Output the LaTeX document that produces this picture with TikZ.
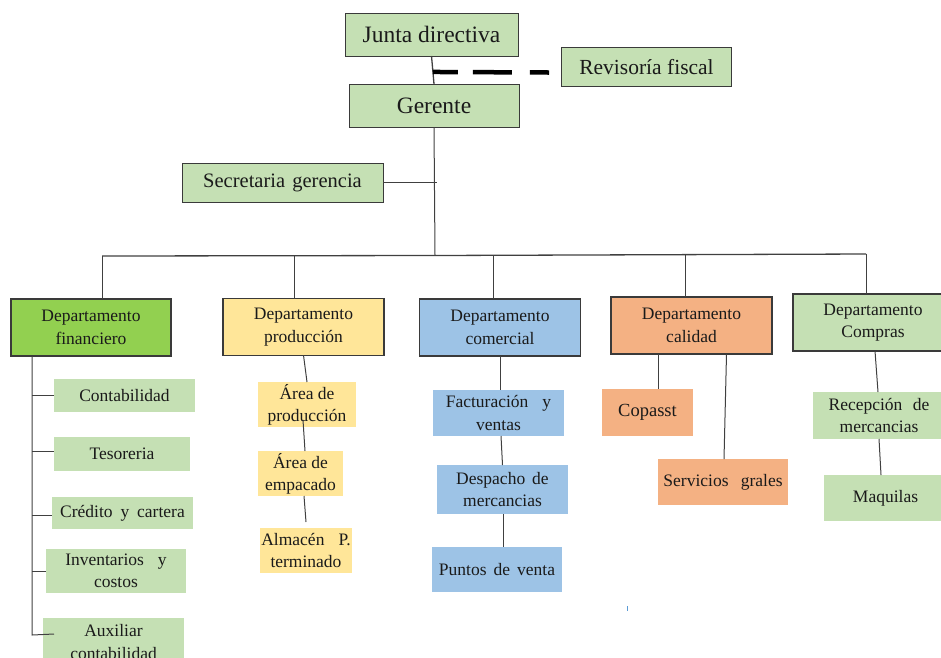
\documentclass[tikz,border=0pt]{standalone}
\usepackage{fontspec}
\setmainfont{Liberation Serif}
\usetikzlibrary{calc}
\definecolor{cgreen}{HTML}{C5E0B4}
\definecolor{cfin}{HTML}{92D050}
\definecolor{cyel}{HTML}{FFE699}
\definecolor{cblue}{HTML}{9DC3E6}
\definecolor{corange}{HTML}{F4B183}
\definecolor{bordc}{HTML}{3A3A3A}
\definecolor{linec}{HTML}{404040}
\definecolor{textc}{HTML}{1A1A1A}
\definecolor{strayc}{HTML}{5B9BD5}
\begin{document}
\begin{tikzpicture}[x=1pt,y=-1pt,
  every node/.style={inner sep=0pt, outer sep=0pt, text=textc, align=center},
  sz/.style 2 args={minimum width=#1pt, minimum height=#2pt},
  topbox/.style={draw=bordc, line width=1pt, fill=cgreen},
  deptbox/.style={draw=bordc, line width=1.3pt, font=\fontsize{17.5}{22.7}\selectfont},
  subbox/.style={draw=none, font=\fontsize{17.5}{22.3}\selectfont},
  bigfont/.style={font=\fontsize{23.5}{27}\selectfont},
  midfont/.style={font=\fontsize{21.5}{25}\selectfont},
  conn/.style={draw=linec, line width=1pt},
  busline/.style={draw=linec, line width=1.3pt},
  dashline/.style={draw=black, line width=4.5pt, dash pattern=on 25pt off 15pt on 39pt off 18pt on 40pt}
]
\useasboundingbox (0,0) rectangle (941,657);
\clip (0,0) rectangle (941,657);

% top level
\node[topbox, bigfont, sz={173}{43}] (junta) at (431.5,34.5) {Junta directiva};
\node[topbox, midfont, sz={170}{39}] (revisoria) at (646.5,67) {Revisoría fiscal};
\node[topbox, bigfont, sz={170}{43}] (gerente) at (434,105.5) {Gerente};
\node[topbox, font=\fontsize{20.5}{24}\selectfont, sz={201}{39}] (secretaria) at (282.5,182.5) {Secretaria\hspace{0.35em}gerencia};

% departments
\node[deptbox, fill=cfin, sz={160}{57}] (fin) at (91,327.5) {Departamento\\financiero};
\node[deptbox, fill=cyel, sz={161}{56.5}] (prod) at (303.5,327) {Departamento\\producción};
\node[deptbox, fill=cblue, sz={161}{57}] (com) at (500,327.5) {Departamento\\comercial};
\node[deptbox, fill=corange, sz={161}{57}] (cal) at (691.5,325.5) {Departamento\\calidad};
\node[deptbox, fill=cgreen, sz={160}{57}] (comp) at (873,322.5) {Departamento\\Compras};

% financiero children
\node[subbox, fill=cgreen, sz={141}{33}] (conta) at (124.5,395.5) {Contabilidad};
\node[subbox, fill=cgreen, sz={136}{34}] (teso) at (122,454) {Tesoreria};
\node[subbox, fill=cgreen, sz={141}{32}] (cred) at (122.5,513) {Crédito\hspace{0.45em}y\hspace{0.45em}cartera};
\node[subbox, fill=cgreen, sz={140}{44}] (inv) at (116,571) {Inventarios\hspace{0.8em}y\\costos};
\node[subbox, fill=cgreen, sz={141}{48}] (aux) at (113.5,642) {Auxiliar\\contabilidad};

% produccion children
\node[subbox, fill=cyel, sz={98}{45}] (ap) at (307,404.5) {Área de\\producción};
\node[subbox, fill=cyel, sz={85}{45}] (ae) at (300.5,473.5) {Área de\\empacado};
\node[subbox, fill=cyel, sz={92}{45}] (alm) at (306,550.5) {Almacén\hspace{0.8em}P.\\terminado};

% comercial children
\node[subbox, fill=cblue, sz={131}{46}] (fac) at (498.5,413) {Facturación\hspace{0.8em}y\\ventas};
\node[subbox, fill=cblue, sz={131}{49}] (des) at (502.5,489.5) {Despacho\hspace{0.4em}de\\mercancias};
\node[subbox, fill=cblue, sz={130}{45}] (pun) at (497,569.5) {Puntos\hspace{0.4em}de\hspace{0.4em}venta};

% calidad children
\node[subbox, fill=corange, sz={91}{47}, font=\fontsize{18.5}{22}\selectfont] (cop) at (647.5,412.5) {Copasst};
\node[subbox, fill=corange, sz={130}{46}] (serv) at (723,482) {Servicios\hspace{0.7em}grales};

% compras children
\node[subbox, fill=cgreen, sz={132}{47}] (rec) at (879,415.5) {Recepción\hspace{0.6em}de\\mercancias};
\node[subbox, fill=cgreen, sz={123}{46}] (maq) at (885.5,498) {Maquilas};

% coordinates
\coordinate (jg) at ($(junta.south)!0.57!(gerente.north)$);
\coordinate (dashend) at (549,72.5);
\coordinate (hub) at (435,255.5);
\coordinate (sectick) at (437,182.5);
\coordinate (busL) at (102,256);
\coordinate (busR) at (866,254);
\coordinate (dprod) at (294,256);
\coordinate (dcom) at (493,255);
\coordinate (dcal) at (685,254.5);
\coordinate (fintop) at (32,356);
\coordinate (finbot) at (32,635);
\coordinate (auxt) at (54,634);
\coordinate (straytop) at (627,606);
\coordinate (straybot) at (627,611);

% connectors top
\draw[conn, line width=1.3pt] (junta.south) -- (gerente.north);
\draw[dashline] (jg) -- (dashend);
\draw[conn] (gerente.south) -- (hub);
\draw[conn] (secretaria.east) -- (sectick);
\draw[busline] (busL) -- (hub) -- (busR);

% drops
\draw[conn] (busL) -- (busL |- fin.north);
\draw[conn] (dprod) -- (dprod |- prod.north);
\draw[conn] (dcom) -- (dcom |- com.north);
\draw[conn] (dcal) -- (dcal |- cal.north);
\draw[conn] (busR) -- (busR |- comp.north);

% financiero
\draw[conn] (fintop) -- (finbot) -- (auxt);
\draw[conn] (fintop |- conta.west) -- (conta.west);
\draw[conn] ([yshift=3pt]fintop |- teso.west) -- ([yshift=3pt]teso.west);
\draw[conn] ([yshift=-2pt]fintop |- cred.west) -- ([yshift=-2pt]cred.west);
\draw[conn] (fintop |- inv.west) -- (inv.west);

% produccion
\draw[conn] (prod.south) -- (ap.north);
\draw[conn] ([xshift=-4pt,yshift=-15.5pt]ap.center) -- ([xshift=4.5pt]ae.north);
\draw[conn] ([xshift=3.5pt]ae.south) -- ([yshift=6pt]alm.north);

% comercial
\draw[conn] (com.south) -- (com.south |- fac.north);
\draw[conn] ([xshift=2.5pt]fac.south) -- (des.north);
\draw[conn] ([xshift=0.5pt]des.south) -- ([xshift=6pt]pun.north);

% calidad
\draw[conn] ([xshift=-33.5pt]cal.south) -- ([xshift=10.5pt]cop.north);
\draw[conn] ([xshift=35pt]cal.south) -- ([xshift=1pt]serv.north);

% compras
\draw[conn] ([xshift=2pt]comp.south) -- ([xshift=-1pt]rec.north);
\draw[conn] (rec.south) -- ([xshift=-4.5pt]maq.north);

% stray mark
\draw[draw=strayc, line width=0.8pt] (straytop) -- (straybot);
\end{tikzpicture}
\end{document}
